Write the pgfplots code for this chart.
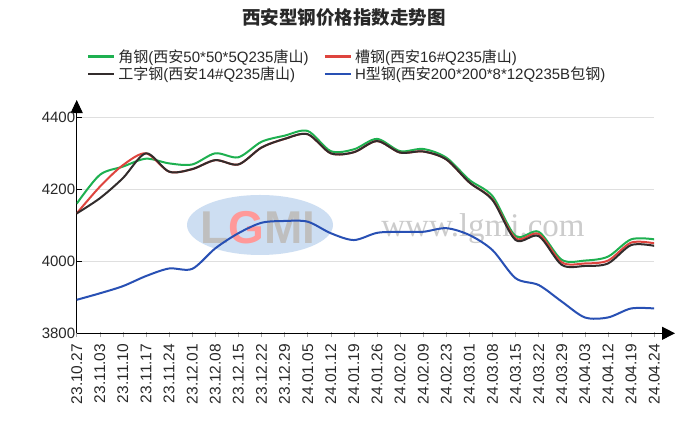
\documentclass[border=0pt]{standalone}
\usepackage{fontspec}
\setmainfont{Liberation Sans}
\newfontfamily\cjk{Noto Sans CJK SC}
\newfontfamily\wmserif{Liberation Serif}
\usepackage{pgfplots}
\usepackage{pgfplotstable}
\pgfplotsset{compat=1.18}
\usetikzlibrary{arrows.meta}
\newcommand\C[1]{{\cjk #1}}
\definecolor{cgreen}{RGB}{30,176,80}
\definecolor{cred}{RGB}{222,68,62}
\definecolor{cblack}{RGB}{50,44,44}
\definecolor{cblue}{RGB}{40,80,180}
\definecolor{ctext}{RGB}{40,40,40}
\definecolor{wmblue}{RGB}{205,222,242}

\pgfplotstableread{
x  g    r    k    b
0  4160 4133 4133 3893
1  4240 4207 4175 3911
2  4263 4267 4231 3931
3  4285 4300 4300 3959
4  4272 4249 4249 3980
5  4269 4256 4256 3979
6  4300 4281 4281 4036
7  4289 4269 4269 4078
8  4332 4316 4316 4107
9  4349 4340 4340 4112
10 4362 4353 4353 4110
11 4306 4300 4300 4078
12 4311 4303 4303 4059
13 4340 4334 4334 4079
14 4306 4302 4302 4082
15 4312 4305 4305 4082
16 4288 4283 4283 4092
17 4226 4219 4219 4073
18 4181 4172 4170 4031
19 4070 4064 4059 3953
20 4082 4076 4070 3934
21 4004 3997 3990 3888
22 4002 3994 3987 3844
23 4013 4002 3994 3844
24 4061 4052 4045 3869
25 4061 4050 4043 3869
}\datatable

\begin{document}
\begin{tikzpicture}
\fill[white] (0,0) rectangle (688pt,438pt);
\path[use as bounding box] (0,0) rectangle (688pt,438pt);
% watermark
\fill[wmblue] (260pt,213pt) ellipse [x radius=73pt, y radius=30pt];
\node[font=\fontsize{46}{46}\selectfont\bfseries, text=gray!50] at (258pt,210pt) {L\textcolor{red!40}{G}MI};
\node[font=\wmserif\fontsize{33}{33}\selectfont, text=gray!40] at (483pt,209pt) {www.lgmi.com};
\node[font=\cjk\bfseries\fontsize{18.5}{18.5}\selectfont, text=ctext] at (344pt,420pt) {西安型钢价格指数走势图};
\begin{axis}[
  at={(76.7pt,104.7pt)}, anchor=south west,
  scale only axis, width=577.5pt, height=216pt,
  xmin=0, xmax=25, ymin=3800, ymax=4400,
  axis x line*=bottom, axis y line*=left,
  x axis line style={line width=1pt, shorten >=-20.8pt, -{Triangle[width=13pt,length=13pt]}},
  y axis line style={line width=1pt, shorten >=-17.3pt, -{Triangle[width=12pt,length=13pt]}},
  ytick={3800,4000,4200,4400},
  ymajorgrids, grid style={gray!25, line width=0.8pt},
  xtick={0,...,25},
  xticklabels={23.10.27,23.11.03,23.11.10,23.11.17,23.11.24,23.12.01,23.12.08,23.12.15,23.12.22,23.12.29,24.01.05,24.01.12,24.01.19,24.01.26,24.02.02,24.02.09,24.02.23,24.03.01,24.03.08,24.03.15,24.03.22,24.03.29,24.04.03,24.04.12,24.04.19,24.04.24},
  tick align=inside, major tick length=5pt,
  ytick style={black, line width=0.8pt},
  xtick style={gray!70, line width=0.6pt, yshift=-4pt},
  xticklabel style={rotate=90, anchor=east, font=\fontsize{15.5}{15.5}\selectfont, text=ctext, xshift=-7pt},
  yticklabel style={font=\fontsize{15}{15}\selectfont, text=ctext, xshift=2pt},
  /pgf/number format/1000 sep={},
  /pgf/number format/assume math mode=true,
  legend columns=2,
  legend cell align=left,
  legend style={at={(0.0173,1.315)}, anchor=north west, draw=none, fill=none,
    font=\fontsize{15}{15}\selectfont, text=ctext, inner sep=0pt, row sep=3pt,
    nodes={inner xsep=3pt, inner ysep=0pt},
    /tikz/column 2/.style={column sep=12pt}},
  legend image code/.code={\draw[#1, line width=2.6pt] (0pt,0pt) -- (26pt,0pt);},
  every axis plot/.append style={line width=2pt, smooth},
]
\addplot[cgreen, no marks] table[x=x,y=g] {\datatable};
\addlegendentry{\C{角钢}(\C{西安}50*50*5Q235\C{唐山})}
\addplot[cred, no marks] table[x=x,y=r] {\datatable};
\addlegendentry{\C{槽钢}(\C{西安}16\#Q235\C{唐山})}
\addplot[cblack, no marks] table[x=x,y=k] {\datatable};
\addlegendentry{\C{工字钢}(\C{西安}14\#Q235\C{唐山})}
\addplot[cblue, no marks] table[x=x,y=b] {\datatable};
\addlegendentry{H\C{型钢}(\C{西安}200*200*8*12Q235B\C{包钢})}
\end{axis}
\end{tikzpicture}
\end{document}
